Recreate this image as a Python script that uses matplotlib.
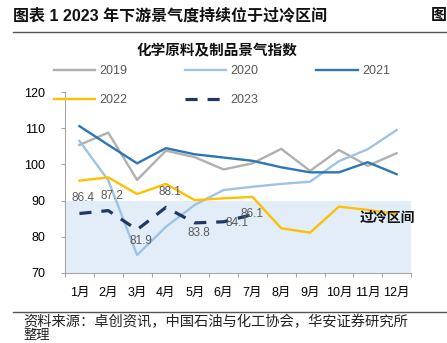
import matplotlib
matplotlib.use("Agg")
import matplotlib.pyplot as plt
from matplotlib.lines import Line2D

plt.rcParams['font.family'] = ['Liberation Sans', 'Noto Sans CJK SC', 'DejaVu Sans']

months = ["1月", "2月", "3月", "4月", "5月", "6月", "7月", "8月", "9月", "10月", "11月", "12月"]
v2019 = [105.4, 108.8, 95.7, 103.8, 102.0, 98.6, 100.3, 104.3, 98.2, 104.0, 99.6, 103.1]
v2020 = [106.5, 95.6, 74.9, 82.7, 88.8, 92.9, 93.8, 94.6, 95.2, 100.9, 104.2, 109.5]
v2021 = [110.6, 105.4, 100.3, 104.5, 102.8, 101.9, 101.0, 99.2, 97.8, 97.8, 100.6, 97.3]
v2022 = [95.5, 96.4, 91.8, 94.6, 90.1, 90.6, 91.0, 82.3, 81.1, 88.3, 87.4, 86.2]
v2023 = [86.4, 87.2, 81.9, 88.1, 83.8, 84.1, 86.1]
cold_zone = (70, 90)
yticks = [70, 80, 90, 100, 110, 120]

W, H = 447, 343
fig = plt.figure(figsize=(W / 100, H / 100), dpi=100)

def fx(px):
    return px / W

def fy(py):
    return 1 - py / H

# header / footer
fig.text(fx(13), fy(15), "图表 1 2023 年下游景气度持续位于过冷区间", fontsize=11.5,
         fontweight='bold', va='center', ha='left', color='#111111')
fig.text(fx(431), fy(15), "图", fontsize=11.5, fontweight='bold', va='center', ha='left',
         color='#111111', family=['Noto Sans CJK SC'])
fig.add_artist(Line2D([fx(13), 1], [fy(31.7), fy(31.7)], color='#555555', lw=1.0))
fig.text(fx(217), fy(50), "化学原料及制品景气指数", fontsize=10.5, fontweight='bold',
         va='center', ha='center', color='#111111', family=['Noto Sans CJK SC'])
fig.add_artist(Line2D([fx(13), 1], [fy(311.7), fy(311.7)], color='#555555', lw=1.0))
fig.text(fx(23), fy(322), "资料来源：卓创资讯，中国石油与化工协会，华安证券研究所", fontsize=10.3,
         va='center', ha='left', color='#222222', family=['Noto Sans CJK SC'])
fig.text(fx(23), fy(342.5), "整理", fontsize=9.5, va='bottom', ha='left', color='#222222',
         family=['Noto Sans CJK SC'])

ax = fig.add_axes([fx(65), fy(272.7), (411 - 65) / W, (272.7 - 92.2) / H])
x = list(range(len(months)))
ax.axhspan(cold_zone[0], cold_zone[1], color='#E3EDF8', lw=0, zorder=0)

l19, = ax.plot(x, v2019, color='#B0B0B0', lw=1.7, label='2019', zorder=2)
l20, = ax.plot(x, v2020, color='#9DC3E6', lw=1.7, label='2020', zorder=2)
l21, = ax.plot(x, v2021, color='#2E75B6', lw=1.7, label='2021', zorder=3)
l22, = ax.plot(x, v2022, color='#FFC000', lw=1.7, label='2022', zorder=3)
l23, = ax.plot(x[:len(v2023)], v2023, color='#203864', lw=2.3, ls=(0, (3.8, 3.1)),
               label='2023', zorder=4)

offsets = [(4, 15), (4, 15), (4, -11), (4, 15), (4, -10), (13, -1), (0, 1)]
for i, (v, off) in enumerate(zip(v2023, offsets)):
    ax.annotate(f"{v:.1f}", (i, v), xytext=off, textcoords='offset pixels',
                ha='center', va='center', fontsize=8.5, color='#595959', zorder=5)

ax.text(10.7, 85.3, "过冷区间", fontsize=10, fontweight='bold', ha='center', va='center',
        color='#111111', family=['Noto Sans CJK SC'], zorder=5)

ax.set_xlim(-0.5, len(months) - 0.5)
ax.set_ylim(yticks[0], yticks[-1])
ax.set_yticks(yticks)
ax.set_xticks(x)
ax.set_xticklabels(months)
ax.set_xticks([i - 0.5 for i in range(len(months) + 1)], minor=True)
ax.tick_params(axis='x', which='major', length=0, pad=10, labelsize=9)
ax.tick_params(axis='x', which='minor', length=3, color='#A6A6A6', width=0.8)
ax.tick_params(axis='y', length=3, color='#A6A6A6', width=0.8, pad=11, labelsize=9)
for s in ['top', 'right']:
    ax.spines[s].set_visible(False)
for s in ['left', 'bottom']:
    ax.spines[s].set_color('#A6A6A6')
    ax.spines[s].set_linewidth(0.8)

# matplotlib fills legend columns first; order so rows read 2019 2020 2021 / 2022 2023
handles = [l19, l22, l20, l23, l21]
leg = fig.legend(handles=handles, labels=[h.get_label() for h in handles], ncol=3,
                 loc='upper left', bbox_to_anchor=(fx(54), fy(65)), frameon=False,
                 fontsize=9, handlelength=3.3, handletextpad=0.35, columnspacing=4.6,
                 labelspacing=1.35, borderpad=0, borderaxespad=0)
for t in leg.get_texts():
    t.set_color('#595959')

fig.savefig("out.png", dpi=100)
